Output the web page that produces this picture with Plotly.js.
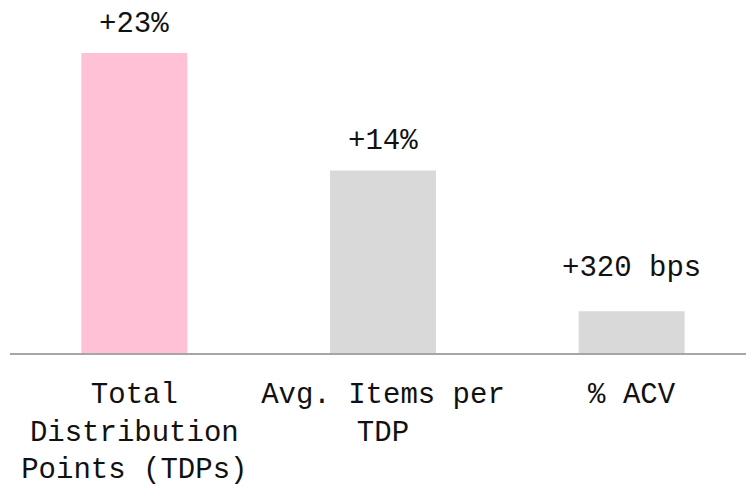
<!DOCTYPE html>
<html>
<head>
<meta charset="utf-8">
<script src="https://cdn.plot.ly/plotly-3.0.1.min.js"></script>
<style>html,body{margin:0;padding:0;background:#fff;}#chart{width:746px;height:488px;}</style>
</head>
<body>
<div id="chart"></div>
<script>
const categories = ["Total<br>Distribution<br>Points (TDPs)", "Avg. Items per<br>TDP", "% ACV"];
const values = [23, 14, 3.2];
const valueLabels = ["+23%", "+14%", "+320 bps"];
const barColors = ["#FFC1D5", "#D9D9D9", "#D9D9D9"];

const fontFam = "'Liberation Mono', 'DejaVu Sans Mono', monospace";

const trace = {
  type: "bar",
  x: categories,
  y: values,
  marker: { color: barColors },
  width: 0.426,
  hoverinfo: "skip"
};

const annotations = categories.map((c, i) => ({
  x: c, y: values[i], xref: "x", yref: "y",
  text: valueLabels[i], showarrow: false,
  yanchor: "bottom", yshift: (i === 2 ? 24 : 10),
  font: { family: fontFam, size: 29, color: "#111" }
}));

const layout = {
  width: 746, height: 488,
  margin: { l: 10, r: 0, t: 27, b: 135 },
  paper_bgcolor: "#fff", plot_bgcolor: "#fff",
  showlegend: false,
  xaxis: {
    type: "category",
    range: [-0.5, 2.46],
    showgrid: false, zeroline: false,
    showline: true, linecolor: "#a6a6a6", linewidth: 2,
    ticks: "", ticklabelstandoff: 13,
    tickfont: { family: fontFam, size: 29, color: "#111" }
  },
  yaxis: {
    range: [0, 25], visible: false, showgrid: false, zeroline: false
  },
  annotations: annotations
};

Plotly.newPlot("chart", [trace], layout, { displayModeBar: false, staticPlot: true });
</script>
</body>
</html>
